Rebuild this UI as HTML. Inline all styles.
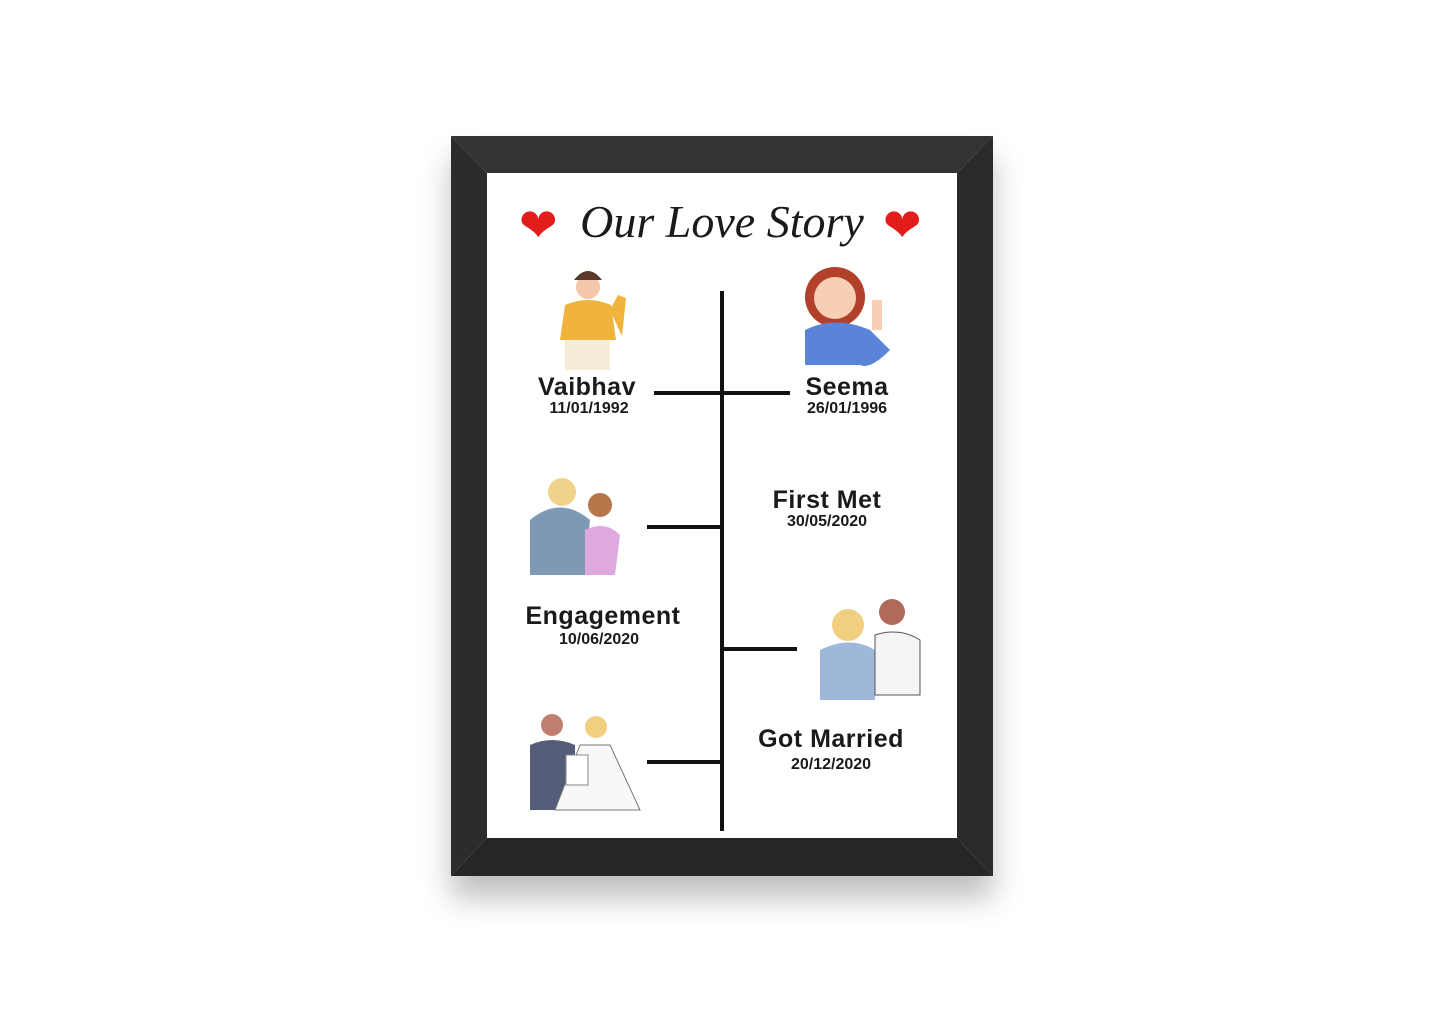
<!DOCTYPE html>
<html><head><meta charset="utf-8"><style>
body{margin:0;width:1445px;height:1012px;background:#fff;position:relative;overflow:hidden;font-family:"Liberation Sans",sans-serif}
.abs{position:absolute}
.name{position:absolute;font-weight:bold;font-size:25px;color:#1a1a1a;text-align:center;width:200px;letter-spacing:0.5px}
.date{position:absolute;font-weight:bold;font-size:16px;color:#1a1a1a;text-align:center;width:200px}
.ln{position:absolute;background:#111}
</style></head><body>
<div class="abs" style="left:451px;top:136px;width:542px;height:740px;box-shadow:0 22px 28px rgba(0,0,0,0.25)"></div>
<svg class="abs" style="left:451px;top:136px" width="542" height="740">
<polygon points="0,0 542,0 506,37 36,37" fill="#333"/>
<polygon points="0,740 542,740 506,702 36,702" fill="#262626"/>
<polygon points="0,0 36,37 36,702 0,740" fill="#2c2c2c"/>
<polygon points="542,0 506,37 506,702 542,740" fill="#2a2a2a"/>
<rect x="36" y="37" width="470" height="665" fill="#fff"/>
</svg>
<div class="abs" style="left:522px;top:195px;width:400px;text-align:center;white-space:nowrap;font-family:'Liberation Serif',serif;font-style:italic;font-size:46px;color:#1a1a1a">Our Love Story</div>
<div class="abs" style="left:519px;top:198px;font-size:46px;color:#e21b1b">❤</div>
<div class="abs" style="left:883px;top:198px;font-size:46px;color:#e21b1b">❤</div>
<div class="ln" style="left:720px;top:291px;width:4px;height:540px"></div>
<div class="ln" style="left:654px;top:391px;width:136px;height:4px"></div>
<div class="ln" style="left:647px;top:525px;width:75px;height:4px"></div>
<div class="ln" style="left:722px;top:647px;width:75px;height:4px"></div>
<div class="ln" style="left:647px;top:760px;width:75px;height:4px"></div>
<svg class="abs" style="left:0;top:0" width="1445" height="1012">
<circle cx="588" cy="287" r="12" fill="#f3c7a8"/><path d="M574 280 q14 -18 28 0 z" fill="#5a3a2a"/>
<path d="M565 305 q23 -10 46 0 l5 35 h-56z" fill="#f0b43c"/><rect x="565" y="340" width="45" height="30" fill="#f5ecd8"/>
<path d="M610 310 l8 -15 l8 3 l-4 38z" fill="#f0b43c"/>
<circle cx="835" cy="297" r="30" fill="#b3402a"/><circle cx="835" cy="298" r="21" fill="#f6cfb4"/>
<path d="M805 330 q30 -15 65 0 l20 20 q-20 20 -30 15 h-55z" fill="#5b84d8"/>
<rect x="872" y="300" width="10" height="30" fill="#f6cfb4"/>
<circle cx="562" cy="492" r="14" fill="#f0d28a"/><path d="M530 520 q30 -25 60 0 l-5 55 h-55z" fill="#7e99b5"/>
<circle cx="600" cy="505" r="12" fill="#b5764a"/><path d="M585 530 q20 -10 35 5 l-5 40 h-30z" fill="#e0a8e0"/>
<circle cx="848" cy="625" r="16" fill="#f0d080"/><path d="M820 650 q30 -15 55 0 v50 h-55z" fill="#9fb7d8"/>
<circle cx="892" cy="612" r="13" fill="#b06a5a"/><path d="M875 635 q25 -8 45 5 v55 h-45z" fill="#f5f5f5" stroke="#555"/>
<circle cx="552" cy="725" r="11" fill="#c08070"/><path d="M530 745 q22 -10 45 0 v65 h-45z" fill="#555c78"/>
<circle cx="596" cy="727" r="11" fill="#f0d080"/><path d="M580 745 h30 l30 65 h-85z" fill="#f8f8f8" stroke="#777"/>
<rect x="566" y="755" width="22" height="30" fill="#fff" stroke="#888"/>
</svg>
<div class="name" style="left:487px;top:373px">Vaibhav</div><div class="date" style="left:489px;top:400px">11/01/1992</div>
<div class="name" style="left:747px;top:373px">Seema</div><div class="date" style="left:747px;top:400px">26/01/1996</div>
<div class="name" style="left:727px;top:486px">First Met</div><div class="date" style="left:727px;top:513px">30/05/2020</div>
<div class="name" style="left:503px;top:602px">Engagement</div><div class="date" style="left:499px;top:631px">10/06/2020</div>
<div class="name" style="left:731px;top:725px">Got Married</div><div class="date" style="left:731px;top:756px">20/12/2020</div>
</body></html>
